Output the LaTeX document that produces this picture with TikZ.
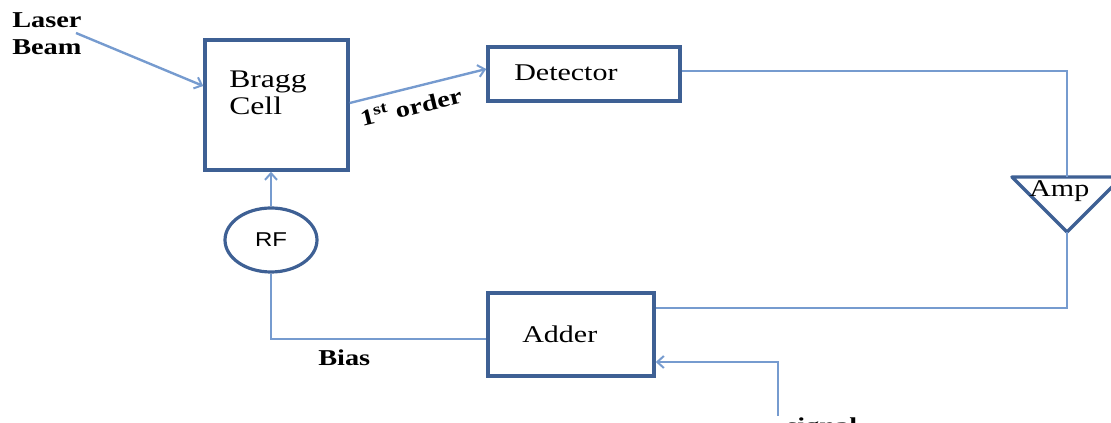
\documentclass[tikz,border=0pt]{standalone}
\usepackage{fontspec}
\setmainfont{Liberation Serif}[FakeStretch=1.25]
\newfontfamily\rffont{Liberation Sans}[FakeStretch=1.2]
\usetikzlibrary{arrows.meta,shapes.geometric}
\definecolor{wire}{RGB}{118,155,207}
\definecolor{frame}{RGB}{62,96,148}
\tikzset{
  block/.style={draw=frame, line width=2.6pt, fill=white, inner sep=0pt},
  wireline/.style={draw=wire, line width=1.8pt},
  feed/.style={wireline, -{Straight Barb[length=5pt,width=9pt,line width=1.5pt]}},
  lbl/.style={font=\fontsize{18}{21}\selectfont, inner sep=0pt, anchor=base west},
  bold/.style={font=\fontsize{17}{21}\selectfont\bfseries, inner sep=0pt}
}
\begin{document}
\begin{tikzpicture}[x=0.75pt,y=-0.75pt]
\useasboundingbox (0,0) rectangle (1111,423);
\clip (0,0) rectangle (1111,423);

% blocks
\node[block, minimum width=143*0.75pt, minimum height=130*0.75pt] (bragg) at (276.5,105) {};
\node[block, minimum width=192*0.75pt, minimum height=54*0.75pt] (det) at (584,74) {};
\node[block, minimum width=166*0.75pt, minimum height=83*0.75pt] (adder) at (571,334.5) {};
\node[draw=frame, line width=2.4pt, ellipse, minimum width=92*0.75pt, minimum height=64*0.75pt, inner sep=0pt, fill=white] (rf) at (271,240) {};

% amplifier triangle
\coordinate (amptop) at (1067,177);
\coordinate (ampapex) at (1067,232);
\draw[draw=frame, line width=2.6pt, line join=round, fill=white]
  (1012,177) -- (1122,177) -- (ampapex) -- cycle;

% block texts
\node[lbl, font=\fontsize{19}{21}\selectfont] at (229,88) {Bragg};
\node[lbl, font=\fontsize{19}{21}\selectfont] at (229,115) {Cell};
\node[lbl] at (514,81) {Detector};
\node[lbl] at (522,343) {Adder};
\node[lbl] at (1029,197) {Amp};
\node[font=\rffont\fontsize{15}{17}\selectfont, inner sep=0pt] at (rf.center) {RF};

% free labels
\node[bold, anchor=base west] at (12,28) {Laser};
\node[bold, anchor=base west] at (12,55) {Beam};
\node[bold, anchor=base west] at (318,366) {Bias};
\node[bold, anchor=base west, rotate=13.5] at (362,127) {1\textsuperscript{st} order};
\node[bold, anchor=base west] at (786,434) {signal};

% connectors
\coordinate (laser) at (76,33);
\coordinate (bias) at (271,339);
\coordinate (sigin) at (778,416);
\draw[feed] (laser) -- (bragg.west |- 0,86);
\draw[feed] (bragg.east |- 0,103) -- (det.west |- 0,69);
\draw[wireline] (det.east |- 0,71) -| (amptop);
\draw[wireline] (ampapex) |- (adder.east |- 0,308);
\draw[feed] (rf.north) -- (bragg.south -| rf.north);
\draw[wireline] (rf.south) |- (adder.west |- bias);
\draw[feed] (sigin) |- (adder.east |- 0,362);
\end{tikzpicture}
\end{document}
